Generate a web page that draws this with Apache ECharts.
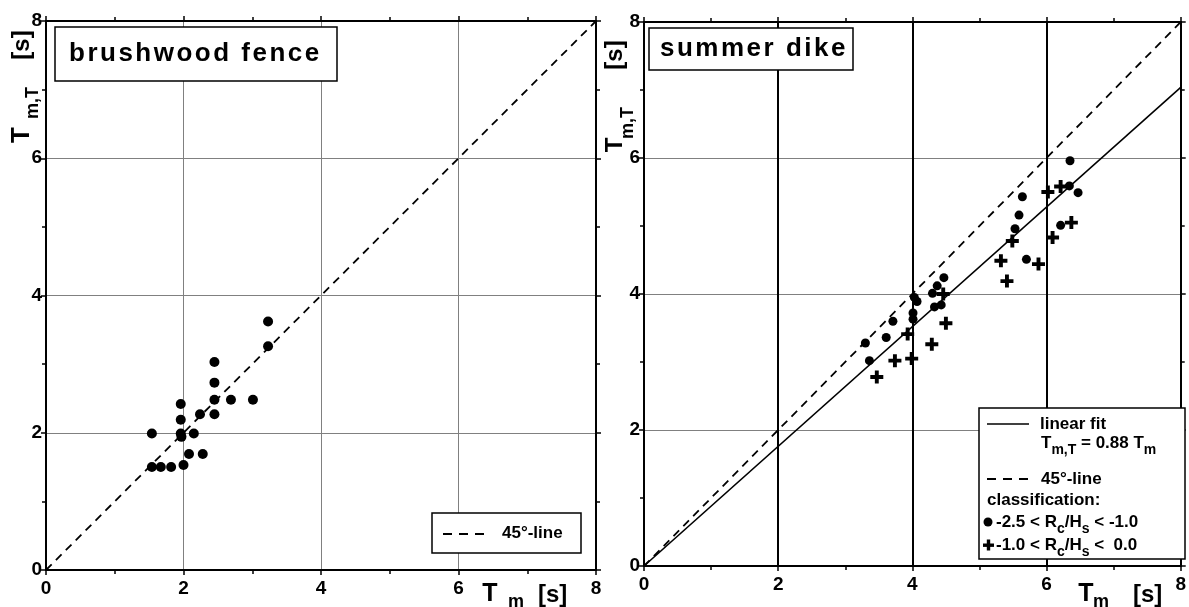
<!DOCTYPE html>
<html>
<head>
<meta charset="utf-8">
<script src="https://cdn.jsdelivr.net/npm/echarts@6/dist/echarts.min.js"></script>
<style>
html, body { margin: 0; padding: 0; background: #fff; }
#main { width: 1189px; height: 607px; }
</style>
</head>
<body>
<div id="main"></div>
<script>
// brushwood fence
const fenceTm  = [3.23, 3.23, 2.45, 2.45, 2.45, 2.69, 3.01, 2.45, 2.24, 1.96, 1.96, 1.96, 1.97, 2.15, 1.54, 2.08, 2.28, 1.54, 1.67, 1.82, 2.00]
const fenceTmT = [3.62, 3.26, 3.03, 2.73, 2.48, 2.48, 2.48, 2.27, 2.27, 2.42, 2.19, 1.99, 1.94, 1.99, 1.99, 1.69, 1.69, 1.50, 1.50, 1.50, 1.53]
// summer dike, -2.5 < Rc/Hs < -1.0
const dikeLowTm  = [3.30, 3.36, 3.61, 3.71, 4.01, 4.01, 4.07, 4.03, 4.33, 4.43, 4.30, 4.37, 4.47, 6.35, 6.34, 6.47, 5.64, 5.59, 5.53, 6.21, 5.70]
const dikeLowTmT = [3.28, 3.02, 3.36, 3.60, 3.72, 3.63, 3.89, 3.95, 3.81, 3.84, 4.01, 4.12, 4.24, 5.96, 5.59, 5.49, 5.43, 5.16, 4.96, 5.01, 4.51]
// summer dike, -1.0 < Rc/Hs < 0.0
const dikeHighTm  = [3.47, 3.74, 3.99, 3.93, 4.29, 4.50, 4.46, 6.02, 6.21, 6.37, 6.09, 5.49, 5.32, 5.88, 5.41]
const dikeHighTmT = [2.78, 3.02, 3.05, 3.41, 3.26, 3.57, 4.00, 5.50, 5.58, 5.05, 4.83, 4.78, 4.49, 4.44, 4.19]
const fitSlope = 0.88
const lineTm = [0, 8]

const FONT = '"Liberation Sans", Arial, sans-serif'
const PLUS = 'path://M4.2,0H7.8V4.2H12V7.8H7.8V12H4.2V7.8H0V4.2H4.2Z'

const zip = (xs, ys) => xs.map((x, i) => [x, ys[i]])

function axis(gridIndex, position, labels, split){
    return {
        type: 'value', gridIndex: gridIndex, position: position,
        min: 0, max: 8, interval: 2,
        axisLine: { show: true, onZero: false, lineStyle: { color: '#000', width: 2 } },
        axisTick: { show: true, length: 5, lineStyle: { color: '#000', width: 1.5 } },
        minorTick: { show: true, splitNumber: 2, length: 4, lineStyle: { color: '#000', width: 1.5 } },
        axisLabel: { show: labels, color: '#000', fontFamily: FONT, fontWeight: 'bold', fontSize: 19,
                     margin: (position === 'bottom') ? 9 : 4 },
        splitLine: split ? { show: true, lineStyle: split } : { show: false }
    }
}

function txt(x, y, text, size, opt){
    opt = opt || {}
    return {
        type: 'text', x: x, y: y, rotation: opt.rot || 0, z: 100,
        style: {
            text: text, fill: '#000',
            font: 'bold ' + size + 'px ' + FONT,
            align: opt.align || 'center', verticalAlign: 'middle',
            textAlign: opt.align || 'center', textVerticalAlign: 'middle',
            rich: opt.rich
        }
    }
}

// letter-spaced title text
function spaced(str){
    return str.split('').map(c => '{s|' + c + '}').join('')
}

const grayGrid = { color: '#808080', width: 1 }
const blackGrid = { color: '#000', width: 2 }
const dashed = { color: '#000', width: 1.8, type: [8, 6] }

const legRich = {
    n: { fontFamily: FONT, fontWeight: 'bold', fontSize: 17, verticalAlign: 'bottom', padding: [0, 0, 6, 0] },
    s: { fontFamily: FONT, fontWeight: 'bold', fontSize: 14, verticalAlign: 'bottom' }
}
const titleRich = { s: { fontFamily: FONT, fontWeight: 'bold', fontSize: 26, padding: [0, 2.5, 0, 0] } }

const chart = echarts.init(document.getElementById('main'))
const option = {
    animation: false,
    backgroundColor: '#fff',
    grid: [
        { left: 46, top: 21, width: 550, height: 549 },
        { left: 644, top: 22, width: 543, height: 544 }
    ],
    xAxis: [
        axis(0, 'bottom', true, grayGrid),
        axis(0, 'top', false, null),
        axis(1, 'bottom', true, blackGrid),
        axis(1, 'top', false, null)
    ],
    yAxis: [
        axis(0, 'left', true, grayGrid),
        axis(0, 'right', false, null),
        axis(1, 'left', true, grayGrid),
        axis(1, 'right', false, null)
    ],
    series: [
        {
            type: 'line', xAxisIndex: 0, yAxisIndex: 0, symbol: 'none', silent: true,
            data: lineTm.map(v => [v, v]), lineStyle: dashed
        },
        {
            type: 'scatter', xAxisIndex: 0, yAxisIndex: 0, symbol: 'circle', symbolSize: 10,
            data: zip(fenceTm, fenceTmT), itemStyle: { color: '#000', opacity: 1 }
        },
        {
            type: 'line', xAxisIndex: 2, yAxisIndex: 2, symbol: 'none', silent: true,
            data: lineTm.map(v => [v, v]), lineStyle: dashed
        },
        {
            type: 'line', xAxisIndex: 2, yAxisIndex: 2, symbol: 'none', silent: true,
            data: lineTm.map(v => [v, v * fitSlope]),
            lineStyle: { color: '#000', width: 1.6 }
        },
        {
            type: 'scatter', xAxisIndex: 2, yAxisIndex: 2, symbol: 'circle', symbolSize: 9,
            data: zip(dikeLowTm, dikeLowTmT), itemStyle: { color: '#000', opacity: 1 }
        },
        {
            type: 'scatter', xAxisIndex: 2, yAxisIndex: 2, symbol: PLUS, symbolSize: 13,
            data: zip(dikeHighTm, dikeHighTmT), itemStyle: { color: '#000', opacity: 1 }
        }
    ],
    graphic: [
        // titles
        { type: 'rect', z: 90, shape: { x: 55, y: 27, width: 282, height: 54 },
          style: { fill: '#fff', stroke: '#000', lineWidth: 1.5 } },
        txt(69, 54, spaced('brushwood fence'), 26, { align: 'left', rich: titleRich }),
        { type: 'rect', z: 90, shape: { x: 649, y: 28, width: 204, height: 42 },
          style: { fill: '#fff', stroke: '#000', lineWidth: 1.5 } },
        txt(660, 49, spaced('summer dike'), 26, { align: 'left', rich: titleRich }),

        // axis names, left panel
        txt(22, 135, 'T', 26, { rot: Math.PI / 2 }),
        txt(33, 103, 'm,T', 18, { rot: Math.PI / 2 }),
        txt(22, 45, '[s]', 24, { rot: Math.PI / 2 }),
        txt(490, 594, 'T', 25),
        txt(516, 602, 'm', 18),
        txt(538, 595, '[s]', 24, { align: 'left' }),

        // axis names, right panel
        txt(615, 145, 'T', 24, { rot: Math.PI / 2 }),
        txt(628, 123, 'm,T', 18, { rot: Math.PI / 2 }),
        txt(615, 55, '[s]', 24, { rot: Math.PI / 2 }),
        txt(1086, 594, 'T', 25),
        txt(1101, 602, 'm', 18),
        txt(1133, 595, '[s]', 24, { align: 'left' }),

        // legend, left panel
        { type: 'rect', z: 90, shape: { x: 432, y: 513, width: 149, height: 40 },
          style: { fill: '#fff', stroke: '#000', lineWidth: 1.5 } },
        { type: 'line', z: 100, shape: { x1: 443, y1: 534, x2: 488, y2: 534 },
          style: { stroke: '#000', lineWidth: 1.8, lineDash: [9, 7] } },
        txt(502, 533, '45°-line', 17, { align: 'left' }),

        // legend, right panel
        { type: 'rect', z: 90, shape: { x: 979, y: 408, width: 206, height: 151 },
          style: { fill: '#fff', stroke: '#000', lineWidth: 1.5 } },
        { type: 'line', z: 100, shape: { x1: 987, y1: 424, x2: 1029, y2: 424 },
          style: { stroke: '#000', lineWidth: 1.6 } },
        txt(1040, 424, 'linear fit', 17, { align: 'left' }),
        txt(1041, 446, '{n|T}{s|m,T}{n| = 0.88 T}{s|m}', 17, { align: 'left', rich: legRich }),
        { type: 'line', z: 100, shape: { x1: 987, y1: 479, x2: 1029, y2: 479 },
          style: { stroke: '#000', lineWidth: 1.8, lineDash: [9, 7] } },
        txt(1041, 479, '45°-line', 17, { align: 'left' }),
        txt(987, 500, 'classification:', 17, { align: 'left' }),
        { type: 'circle', z: 100, shape: { cx: 988, cy: 522, r: 4.5 }, style: { fill: '#000' } },
        txt(996, 525, '{n|-2.5 < R}{s|c}{n|/H}{s|s}{n| < -1.0}', 17, { align: 'left', rich: legRich }),
        { type: 'rect', z: 100, shape: { x: 983, y: 543.5, width: 11, height: 3.4 }, style: { fill: '#000' } },
        { type: 'rect', z: 100, shape: { x: 986.8, y: 539.5, width: 3.4, height: 11 }, style: { fill: '#000' } },
        txt(996, 548, '{n|-1.0 < R}{s|c}{n|/H}{s|s}{n| <  0.0}', 17, { align: 'left', rich: legRich })
    ]
}
chart.setOption(option)
</script>
</body>
</html>
